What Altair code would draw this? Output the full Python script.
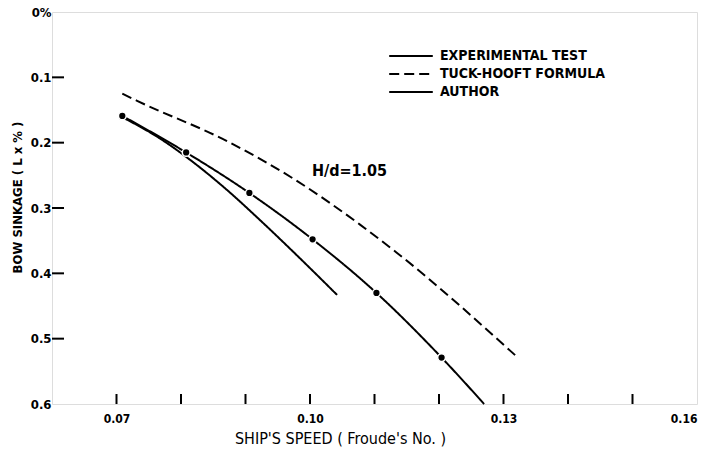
import altair as alt
import pandas as pd

# Experimental test (solid)
exp_x = [0.0709, 0.0768, 0.0819, 0.0872, 0.0923, 0.0974, 0.1042]
exp_y = [0.161, 0.194, 0.230, 0.273, 0.319, 0.367, 0.433]

# Tuck-Hooft formula (dashed)
tuck_x = [0.0709, 0.0732, 0.0872, 0.0974, 0.1077, 0.1134, 0.1320]
tuck_y = [0.125, 0.136, 0.198, 0.255, 0.325, 0.368, 0.527]

# Author (line with dots)
auth_x = [0.0709, 0.0808, 0.0906, 0.1004, 0.1103, 0.1204, 0.1270]
auth_y = [0.159, 0.215, 0.277, 0.348, 0.430, 0.529, 0.600]
auth_dot_x = [0.0709, 0.0808, 0.0906, 0.1004, 0.1103, 0.1204]
auth_dot_y = [0.159, 0.215, 0.277, 0.348, 0.430, 0.529]

series_names = ["EXPERIMENTAL TEST", "TUCK-HOOFT FORMULA", "AUTHOR"]

x_ticks = [0.07, 0.08, 0.09, 0.10, 0.11, 0.12, 0.13, 0.14, 0.15]
y_ticks = [0.1, 0.2, 0.3, 0.4, 0.5]

annot_x = [0.1003]
annot_y = [0.243]
annot_text = ["H/d=1.05"]

FONT = "DejaVu Sans Condensed"

rows = []
for x, y in zip(exp_x, exp_y):
    rows.append({"x": x, "y": y, "s": series_names[0]})
for x, y in zip(tuck_x, tuck_y):
    rows.append({"x": x, "y": y, "s": series_names[1]})
for x, y in zip(auth_x, auth_y):
    rows.append({"x": x, "y": y, "s": series_names[2]})
df = pd.DataFrame(rows)
dots = pd.DataFrame({"x": auth_dot_x, "y": auth_dot_y})
xt = pd.DataFrame({"x": x_ticks})
yt = pd.DataFrame({"y": y_ticks})
ann = pd.DataFrame({"x": annot_x, "y": annot_y, "t": annot_text})

W, H = 645, 392

xscale = alt.Scale(domain=[0.06, 0.16], nice=False, zero=False)
yscale = alt.Scale(domain=[0, 0.6], reverse=True, nice=False, zero=False)

xaxis = alt.Axis(
    title="SHIP'S SPEED ( Froude's No. )",
    values=[0.07, 0.10, 0.13, 0.16],
    labelExpr="datum.value == 0.07 ? '0.07' : datum.value == 0.1 ? '0.10' : datum.value == 0.13 ? '0.13' : '0.16'",
    ticks=False, tickSize=0, grid=False, domain=False,
    labelFlush=True, labelPadding=9,
    labelFont=FONT, labelFontSize=12, labelFontWeight="bold", labelColor="black",
    titleFont=FONT, titleFontSize=16, titleFontWeight="normal", titleColor="black",
    titlePadding=6, titleX=288, titleAlign="center",
)
yaxis = alt.Axis(
    title="BOW SINKAGE ( L x % )",
    values=[0, 0.1, 0.2, 0.3, 0.4, 0.5, 0.6],
    labelExpr="datum.value == 0 ? '0%' : format(datum.value, '.1f')",
    ticks=False, tickSize=0, grid=False, domain=False,
    labelPadding=1,
    labelFont=FONT, labelFontSize=13, labelFontWeight="bold", labelColor="black",
    titleFont=FONT, titleFontSize=13, titleFontWeight="bold", titleColor="black",
    titlePadding=6, titleY=185,
)

lines = alt.Chart(df).mark_line(strokeWidth=2, interpolate="monotone").encode(
    x=alt.X("x:Q", scale=xscale, axis=xaxis),
    y=alt.Y("y:Q", scale=yscale, axis=yaxis),
    detail="s:N",
    strokeDash=alt.StrokeDash(
        "s:N",
        scale=alt.Scale(domain=series_names, range=[[1, 0], [10, 5], [1, 0]]),
        legend=alt.Legend(
            title=None, orient="none", legendX=336, legendY=35, padding=0,
            symbolType="stroke", symbolStrokeWidth=2, symbolSize=1900,
            symbolStrokeColor="black", clipHeight=18,
            labelFont=FONT, labelFontSize=14, labelFontWeight="bold",
            labelColor="black", rowPadding=0, labelOffset=6, labelLimit=0,
        ),
    ),
    color=alt.value("black"),
)

pts = alt.Chart(dots).mark_point(
    filled=True, size=60, shape="circle", color="black",
    stroke="white", strokeWidth=1.5, opacity=1
).encode(x=alt.X("x:Q", scale=xscale), y=alt.Y("y:Q", scale=yscale))

xtick = alt.Chart(xt).mark_rule(color="black", strokeWidth=2).encode(
    x=alt.X("x:Q", scale=xscale), y=alt.value(H - 10), y2=alt.value(H)
)
ytick = alt.Chart(yt).mark_rule(color="black", strokeWidth=2).encode(
    y=alt.Y("y:Q", scale=yscale), x=alt.value(0), x2=alt.value(12)
)

txt = alt.Chart(ann).mark_text(
    align="left", baseline="middle", font=FONT, fontSize=16, fontWeight="bold",
    color="black"
).encode(x=alt.X("x:Q", scale=xscale), y=alt.Y("y:Q", scale=yscale), text="t:N")

chart = alt.layer(lines, pts, xtick, ytick, txt).properties(
    width=W, height=H,
    autosize=alt.AutoSizeParams(type="none"),
    padding={"left": 52, "top": 12, "right": 7, "bottom": 53},
).configure_view(stroke="black", strokeWidth=2).configure(background="white")

chart.save("out.html", embed_options={"renderer": "svg", "actions": False})
